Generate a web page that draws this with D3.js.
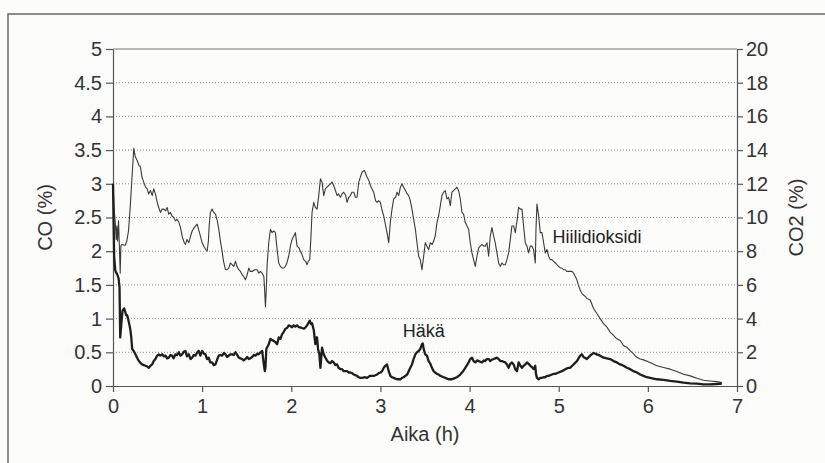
<!DOCTYPE html>
<html>
<head>
<meta charset="utf-8">
<script src="https://cdn.jsdelivr.net/npm/d3@7"></script>
<style>
  body { margin: 0; background: #fcfcfb; }
  svg { display: block; font-family: "Liberation Sans", Arial, sans-serif; }
</style>
</head>
<body>
<div id="chart"></div>
<script>
// time axis (hours) and tick values
const X_TICKS = [0, 1, 2, 3, 4, 5, 6, 7];
const CO_TICKS = [0, 0.5, 1, 1.5, 2, 2.5, 3, 3.5, 4, 4.5, 5];
const CO2_TICKS = [0, 2, 4, 6, 8, 10, 12, 14, 16, 18, 20];

// Hiilidioksidi (CO2 %)
const co2_hours = [0, 0.013, 0.025, 0.036, 0.043, 0.051, 0.062, 0.069, 0.081, 0.088, 0.099, 0.137, 0.155, 0.174, 0.193, 0.211, 0.233, 0.25, 0.27, 0.29, 0.308, 0.325, 0.345, 0.365, 0.383, 0.40, 0.42, 0.44, 0.457, 0.476, 0.50, 0.532, 0.55, 0.57, 0.59, 0.607, 0.625, 0.645, 0.66, 0.682, 0.70, 0.719, 0.74, 0.757, 0.78, 0.80, 0.813, 0.83, 0.85, 0.87, 0.888, 0.91, 0.944, 0.96, 0.981, 1.0, 1.019, 1.04, 1.056, 1.07, 1.08, 1.093, 1.112, 1.13, 1.15, 1.17, 1.187, 1.205, 1.224, 1.24, 1.262, 1.28, 1.299, 1.316, 1.336, 1.355, 1.374, 1.39, 1.411, 1.43, 1.449, 1.465, 1.486, 1.505, 1.523, 1.54, 1.561, 1.59, 1.617, 1.635, 1.654, 1.672, 1.692, 1.70, 1.71, 1.72, 1.728, 1.747, 1.766, 1.785, 1.803, 1.822, 1.841, 1.859, 1.877, 1.897, 1.915, 1.934, 1.95, 1.971, 1.99, 2.009, 2.046, 2.065, 2.085, 2.103, 2.12, 2.14, 2.16, 2.177, 2.19, 2.207, 2.22, 2.233, 2.252, 2.27, 2.289, 2.308, 2.327, 2.345, 2.364, 2.383, 2.40, 2.42, 2.44, 2.457, 2.476, 2.495, 2.514, 2.53, 2.551, 2.57, 2.588, 2.61, 2.626, 2.645, 2.663, 2.68, 2.701, 2.72, 2.738, 2.757, 2.775, 2.794, 2.82, 2.835, 2.85, 2.87, 2.887, 2.905, 2.924, 2.945, 2.962, 2.98, 2.999, 3.02, 3.037, 3.055, 3.074, 3.093, 3.111, 3.13, 3.149, 3.17, 3.186, 3.205, 3.224, 3.242, 3.26, 3.28, 3.30, 3.317, 3.335, 3.354, 3.372, 3.392, 3.41, 3.429, 3.447, 3.466, 3.485, 3.503, 3.522, 3.541, 3.559, 3.58, 3.597, 3.615, 3.634, 3.653, 3.672, 3.69, 3.709, 3.728, 3.746, 3.765, 3.784, 3.802, 3.82, 3.84, 3.858, 3.877, 3.896, 3.915, 3.933, 3.952, 3.971, 3.989, 4.008, 4.027, 4.045, 4.064, 4.083, 4.102, 4.12, 4.139, 4.16, 4.176, 4.195, 4.214, 4.232, 4.251, 4.27, 4.288, 4.307, 4.326, 4.345, 4.363, 4.38, 4.401, 4.419, 4.438, 4.457, 4.475, 4.494, 4.513, 4.532, 4.55, 4.57, 4.588, 4.606, 4.625, 4.644, 4.662, 4.681, 4.70, 4.718, 4.737, 4.745, 4.756, 4.775, 4.793, 4.812, 4.831, 4.849, 4.868, 4.887, 4.905, 4.924, 4.943, 4.962, 4.98, 4.999, 5.02, 5.036, 5.055, 5.074, 5.09, 5.111, 5.13, 5.149, 5.166, 5.186, 5.204, 5.22, 5.241, 5.26, 5.278, 5.30, 5.316, 5.353, 5.391, 5.428, 5.465, 5.503, 5.54, 5.577, 5.615, 5.652, 5.69, 5.727, 5.764, 5.802, 5.839, 5.877, 5.914, 5.951, 6.026, 6.101, 6.176, 6.25, 6.325, 6.40, 6.475, 6.55, 6.624, 6.699, 6.774, 6.83];
const co2_values = [12.0, 10.5, 9.7, 8.7, 9.5, 8.6, 9.8, 8.7, 6.7, 8.3, 8.4, 8.35, 8.6, 9.2, 10.6, 12.2, 14.1, 13.6, 13.4, 13.1, 13.0, 12.4, 12.1, 11.8, 11.7, 11.4, 11.6, 11.3, 11.7, 11.4, 10.8, 10.3, 10.5, 10.5, 10.4, 10.6, 10.2, 10.3, 10.1, 10.0, 9.8, 9.9, 9.7, 9.4, 8.8, 8.5, 8.4, 8.7, 8.5, 8.9, 9.2, 9.4, 9.6, 9.3, 8.9, 8.5, 8.3, 8.1, 8.0, 8.6, 9.6, 10.3, 10.5, 10.3, 10.2, 9.8, 9.3, 8.6, 8.0, 7.4, 6.9, 6.9, 7.0, 7.3, 7.2, 7.1, 7.4, 7.1, 6.9, 6.8, 6.6, 6.5, 6.3, 6.6, 7.0, 6.8, 6.8, 6.9, 6.9, 6.7, 6.8, 6.7, 6.5, 5.8, 4.7, 5.8, 7.1, 8.5, 9.3, 9.1, 9.2, 9.1, 8.1, 7.3, 7.1, 7.0, 7.0, 7.1, 7.3, 7.7, 8.3, 8.7, 9.1, 8.3, 8.2, 8.0, 7.8, 7.5, 7.4, 7.2, 7.4, 7.5, 8.8, 10.3, 10.9, 10.6, 10.5, 11.3, 12.3, 12.1, 11.3, 11.7, 11.8, 11.9, 12.0, 12.1, 11.9, 11.6, 11.3, 11.4, 11.2, 11.4, 11.5, 11.3, 10.9, 11.2, 11.3, 11.5, 11.5, 11.2, 11.2, 12.1, 12.4, 12.7, 12.8, 12.6, 12.4, 12.2, 11.9, 11.7, 11.5, 11.0, 10.9, 11.0, 10.9, 10.4, 10.1, 9.6, 9.1, 8.5, 9.7, 10.5, 11.1, 11.2, 11.5, 11.3, 11.8, 12.0, 11.8, 11.6, 11.4, 11.3, 11.0, 10.5, 9.9, 9.3, 8.5, 7.7, 7.5, 6.9, 7.7, 8.5, 8.3, 8.1, 8.5, 8.4, 8.6, 8.9, 9.7, 10.1, 10.7, 11.3, 11.5, 11.6, 11.1, 11.2, 10.7, 11.5, 11.6, 11.7, 11.8, 11.6, 11.1, 10.3, 10.2, 9.7, 9.5, 9.3, 8.5, 7.9, 7.5, 7.1, 7.7, 8.2, 8.3, 8.4, 8.3, 8.3, 8.5, 7.7, 8.9, 9.4, 8.9, 8.5, 7.9, 7.3, 7.1, 7.3, 7.2, 7.2, 7.5, 7.9, 8.7, 9.5, 9.5, 9.1, 9.8, 10.6, 10.5, 10.5, 9.5, 8.5, 8.3, 7.9, 8.3, 8.3, 8.1, 7.3, 9.3, 10.8, 10.1, 9.1, 9.1, 8.5, 7.9, 8.1, 7.7, 7.5, 7.5, 7.4, 7.3, 7.2, 7.1, 7.0, 7.0, 6.9, 6.9, 6.8, 6.8, 6.8, 6.8, 6.7, 6.5, 6.3, 6.0, 5.7, 5.5, 5.4, 5.3, 5.2, 5.1, 4.6, 4.3, 4.0, 3.7, 3.5, 3.2, 3.0, 2.8, 2.7, 2.4, 2.3, 2.1, 1.9, 1.7, 1.6, 1.55, 1.4, 1.2, 1.1, 1.0, 0.86, 0.7, 0.6, 0.46, 0.34, 0.3, 0.26, 0.2];

// Häkä (CO %)
const co_hours = [0, 0.006, 0.013, 0.025, 0.036, 0.043, 0.062, 0.073, 0.081, 0.092, 0.107, 0.125, 0.133, 0.148, 0.159, 0.174, 0.193, 0.205, 0.215, 0.232, 0.252, 0.27, 0.29, 0.31, 0.327, 0.345, 0.364, 0.383, 0.402, 0.42, 0.439, 0.457, 0.476, 0.495, 0.514, 0.53, 0.551, 0.57, 0.589, 0.607, 0.626, 0.645, 0.663, 0.68, 0.701, 0.72, 0.738, 0.757, 0.775, 0.795, 0.813, 0.83, 0.85, 0.87, 0.888, 0.905, 0.925, 0.945, 0.962, 0.98, 1.0, 1.02, 1.037, 1.055, 1.074, 1.09, 1.112, 1.13, 1.149, 1.17, 1.187, 1.205, 1.224, 1.245, 1.262, 1.28, 1.299, 1.315, 1.336, 1.355, 1.374, 1.39, 1.411, 1.43, 1.449, 1.465, 1.486, 1.505, 1.523, 1.54, 1.561, 1.58, 1.598, 1.617, 1.635, 1.655, 1.673, 1.692, 1.703, 1.71, 1.72, 1.728, 1.747, 1.766, 1.785, 1.803, 1.822, 1.841, 1.859, 1.878, 1.897, 1.915, 1.934, 1.953, 1.971, 1.99, 2.009, 2.028, 2.046, 2.065, 2.085, 2.103, 2.12, 2.14, 2.16, 2.177, 2.19, 2.207, 2.222, 2.233, 2.252, 2.27, 2.28, 2.289, 2.30, 2.315, 2.327, 2.345, 2.364, 2.383, 2.40, 2.42, 2.44, 2.457, 2.476, 2.495, 2.514, 2.53, 2.551, 2.57, 2.588, 2.607, 2.626, 2.645, 2.663, 2.682, 2.701, 2.72, 2.738, 2.757, 2.775, 2.794, 2.82, 2.85, 2.87, 2.887, 2.924, 2.944, 2.962, 2.98, 3.0, 3.018, 3.037, 3.055, 3.074, 3.093, 3.111, 3.13, 3.149, 3.167, 3.186, 3.205, 3.224, 3.242, 3.26, 3.28, 3.30, 3.317, 3.335, 3.354, 3.372, 3.392, 3.41, 3.429, 3.447, 3.466, 3.475, 3.485, 3.503, 3.522, 3.541, 3.56, 3.578, 3.597, 3.615, 3.634, 3.653, 3.672, 3.69, 3.709, 3.728, 3.746, 3.765, 3.784, 3.802, 3.82, 3.84, 3.858, 3.877, 3.896, 3.915, 3.933, 3.952, 3.971, 3.989, 4.008, 4.027, 4.045, 4.064, 4.083, 4.102, 4.12, 4.139, 4.158, 4.176, 4.195, 4.214, 4.232, 4.251, 4.27, 4.288, 4.307, 4.326, 4.345, 4.363, 4.382, 4.401, 4.419, 4.438, 4.457, 4.475, 4.494, 4.513, 4.532, 4.55, 4.57, 4.588, 4.606, 4.625, 4.644, 4.662, 4.681, 4.70, 4.718, 4.737, 4.745, 4.756, 4.775, 4.793, 4.812, 4.831, 4.85, 4.868, 4.887, 4.905, 4.924, 4.943, 4.962, 4.98, 4.999, 5.036, 5.074, 5.111, 5.129, 5.166, 5.204, 5.241, 5.26, 5.278, 5.316, 5.353, 5.391, 5.428, 5.465, 5.503, 5.54, 5.577, 5.615, 5.652, 5.69, 5.727, 5.764, 5.802, 5.839, 5.877, 5.914, 5.951, 5.989, 6.026, 6.101, 6.176, 6.25, 6.325, 6.40, 6.475, 6.55, 6.624, 6.70, 6.774, 6.83];
const co_values = [3.0, 2.5, 1.92, 1.72, 1.68, 1.67, 1.6, 1.47, 0.72, 0.9, 1.12, 1.15, 1.12, 1.05, 1.05, 0.97, 0.85, 0.72, 0.55, 0.52, 0.47, 0.42, 0.37, 0.34, 0.32, 0.31, 0.30, 0.29, 0.27, 0.30, 0.32, 0.37, 0.40, 0.45, 0.47, 0.45, 0.47, 0.44, 0.45, 0.41, 0.42, 0.46, 0.45, 0.41, 0.47, 0.46, 0.50, 0.45, 0.47, 0.51, 0.52, 0.44, 0.47, 0.40, 0.42, 0.46, 0.45, 0.50, 0.52, 0.45, 0.52, 0.48, 0.47, 0.40, 0.42, 0.35, 0.35, 0.31, 0.32, 0.40, 0.45, 0.46, 0.45, 0.49, 0.47, 0.43, 0.45, 0.47, 0.47, 0.46, 0.50, 0.47, 0.42, 0.41, 0.40, 0.38, 0.40, 0.43, 0.40, 0.41, 0.43, 0.46, 0.45, 0.48, 0.47, 0.50, 0.52, 0.32, 0.22, 0.27, 0.55, 0.57, 0.62, 0.70, 0.68, 0.67, 0.65, 0.62, 0.72, 0.70, 0.77, 0.80, 0.85, 0.86, 0.90, 0.89, 0.87, 0.90, 0.88, 0.90, 0.87, 0.87, 0.86, 0.85, 0.87, 0.90, 0.93, 0.97, 0.92, 0.93, 0.83, 0.62, 0.72, 0.72, 0.55, 0.47, 0.27, 0.57, 0.47, 0.42, 0.38, 0.35, 0.34, 0.37, 0.35, 0.31, 0.32, 0.27, 0.25, 0.25, 0.22, 0.22, 0.22, 0.20, 0.20, 0.19, 0.17, 0.16, 0.15, 0.13, 0.12, 0.12, 0.13, 0.12, 0.14, 0.15, 0.15, 0.16, 0.17, 0.19, 0.20, 0.22, 0.27, 0.30, 0.32, 0.22, 0.15, 0.13, 0.12, 0.11, 0.10, 0.10, 0.10, 0.12, 0.13, 0.15, 0.17, 0.22, 0.27, 0.32, 0.40, 0.47, 0.50, 0.52, 0.55, 0.62, 0.63, 0.55, 0.47, 0.45, 0.37, 0.33, 0.27, 0.22, 0.20, 0.18, 0.17, 0.15, 0.14, 0.13, 0.12, 0.11, 0.10, 0.10, 0.10, 0.11, 0.12, 0.13, 0.15, 0.17, 0.20, 0.23, 0.27, 0.31, 0.35, 0.40, 0.42, 0.37, 0.35, 0.38, 0.37, 0.36, 0.35, 0.38, 0.37, 0.40, 0.40, 0.37, 0.39, 0.40, 0.41, 0.42, 0.40, 0.37, 0.37, 0.36, 0.35, 0.32, 0.27, 0.33, 0.35, 0.32, 0.25, 0.22, 0.35, 0.30, 0.27, 0.30, 0.32, 0.35, 0.33, 0.30, 0.28, 0.25, 0.30, 0.18, 0.12, 0.10, 0.12, 0.12, 0.13, 0.13, 0.15, 0.15, 0.16, 0.17, 0.18, 0.18, 0.19, 0.20, 0.22, 0.25, 0.27, 0.27, 0.32, 0.37, 0.45, 0.47, 0.43, 0.40, 0.45, 0.49, 0.47, 0.45, 0.42, 0.41, 0.40, 0.37, 0.35, 0.32, 0.30, 0.27, 0.25, 0.22, 0.20, 0.17, 0.15, 0.13, 0.12, 0.10, 0.09, 0.075, 0.065, 0.05, 0.04, 0.035, 0.025, 0.025, 0.03, 0.035];

// chart properties
const WIDTH = 825;
const HEIGHT = 463;
const LEFT = 113;
const RIGHT = 737;
const TOP = 49;
const BOTTOM = 386;

const svg = d3.select("#chart")
    .append("svg")
    .attr("width", WIDTH)
    .attr("height", HEIGHT);

// outer frame (only top and left edges show in the picture)
svg.append("path")
    .attr("d", `M8,${HEIGHT} L8,14 L${WIDTH},14`)
    .attr("fill", "none")
    .attr("stroke", "#666")
    .attr("stroke-width", 1.5);

const xScale = d3.scaleLinear()
    .domain([0, 7])
    .range([LEFT, RIGHT]);

const yScaleCO = d3.scaleLinear()
    .domain([0, 5])
    .range([BOTTOM, TOP]);

const yScaleCO2 = d3.scaleLinear()
    .domain([0, 20])
    .range([BOTTOM, TOP]);

// dotted grid lines
svg.append("g")
    .selectAll("line")
    .data(CO_TICKS.filter(d => d > 0 && d < 5))
    .join("line")
    .attr("x1", LEFT)
    .attr("x2", RIGHT)
    .attr("y1", d => yScaleCO(d))
    .attr("y2", d => yScaleCO(d))
    .attr("stroke", "#8a8a8a")
    .attr("stroke-width", 1)
    .attr("stroke-dasharray", "1,2");

// top edge of the plot
svg.append("line")
    .attr("x1", LEFT)
    .attr("x2", RIGHT)
    .attr("y1", yScaleCO(5))
    .attr("y2", yScaleCO(5))
    .attr("stroke", "#777")
    .attr("stroke-width", 1);

// plain number labels, no trailing ".0"
const fmt = d => String(d);

const xAxis = d3.axisBottom(xScale)
    .tickValues(X_TICKS)
    .tickFormat(fmt)
    .tickSize(6)
    .tickSizeOuter(0)
    .tickPadding(7);

const yAxisCO = d3.axisLeft(yScaleCO)
    .tickValues(CO_TICKS)
    .tickFormat(fmt)
    .tickSize(7)
    .tickSizeOuter(0)
    .tickPadding(4);

const yAxisCO2 = d3.axisRight(yScaleCO2)
    .tickValues(CO2_TICKS)
    .tickFormat(fmt)
    .tickSize(6)
    .tickSizeOuter(0)
    .tickPadding(3);

function styleAxis(g) {
    g.selectAll("path, line").attr("stroke", "#555").attr("stroke-width", 1.2);
    g.selectAll("text")
        .attr("fill", "#333")
        .style("font-size", "20px");
}

svg.append("g")
    .attr("transform", `translate(0, ${BOTTOM})`)
    .call(xAxis)
    .call(styleAxis);

svg.append("g")
    .attr("transform", `translate(${LEFT}, 0)`)
    .call(yAxisCO)
    .call(styleAxis);

svg.append("g")
    .attr("transform", `translate(${RIGHT}, 0)`)
    .call(yAxisCO2)
    .call(styleAxis);

// lines
const co2_line = d3.line()
    .x((d, i) => xScale(co2_hours[i]))
    .y(d => yScaleCO2(d));

const co_line = d3.line()
    .x((d, i) => xScale(co_hours[i]))
    .y(d => yScaleCO(d));

svg.append("path")
    .datum(co2_values)
    .attr("class", "co2_line")
    .attr("fill", "none")
    .attr("stroke", "#3a3a3a")
    .attr("stroke-width", 1.1)
    .attr("stroke-linejoin", "round")
    .attr("d", co2_line);

svg.append("path")
    .datum(co_values)
    .attr("class", "co_line")
    .attr("fill", "none")
    .attr("stroke", "#1e1e1e")
    .attr("stroke-width", 2.3)
    .attr("stroke-linejoin", "round")
    .attr("d", co_line);

// series labels
svg.append("text")
    .attr("x", xScale(4.93))
    .attr("y", yScaleCO2(8.5))
    .attr("fill", "#222")
    .style("font-size", "18px")
    .text("Hiilidioksidi");

svg.append("text")
    .attr("x", xScale(3.25))
    .attr("y", yScaleCO(0.72))
    .attr("fill", "#222")
    .style("font-size", "18px")
    .text("Häkä");

// axis titles
svg.append("text")
    .attr("transform", `translate(52, ${(TOP + BOTTOM) / 2}) rotate(-90)`)
    .attr("text-anchor", "middle")
    .attr("fill", "#333")
    .style("font-size", "20px")
    .text("CO (%)");

svg.append("text")
    .attr("transform", `translate(803, ${(TOP + BOTTOM) / 2}) rotate(-90)`)
    .attr("text-anchor", "middle")
    .attr("fill", "#333")
    .style("font-size", "20px")
    .text("CO2 (%)");

svg.append("text")
    .attr("x", (LEFT + RIGHT) / 2)
    .attr("y", 441)
    .attr("text-anchor", "middle")
    .attr("fill", "#333")
    .style("font-size", "20px")
    .text("Aika (h)");
</script>
</body>
</html>
